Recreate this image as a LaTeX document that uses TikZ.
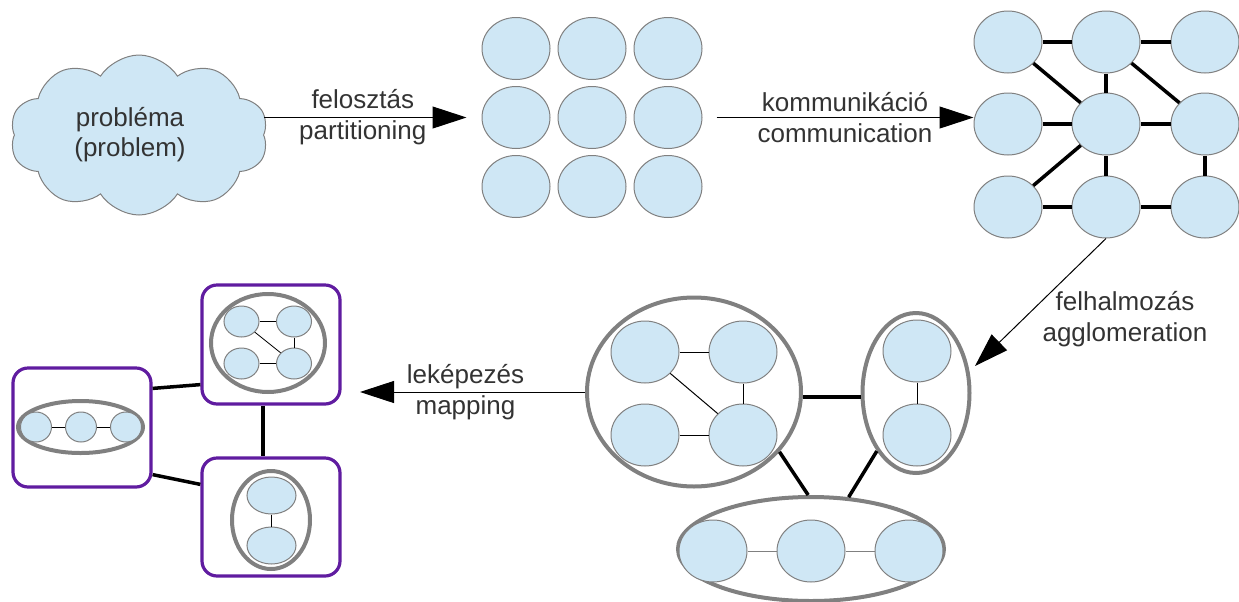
\documentclass[tikz,border=0pt]{standalone}
\usepackage{fontspec}
\setmainfont{Liberation Sans}
\usetikzlibrary{shapes.geometric, shapes.symbols, arrows.meta, positioning}
\definecolor{cellblue}{RGB}{207,231,245}
\definecolor{edgegray}{RGB}{128,128,128}
\definecolor{groupgray}{RGB}{128,128,128}
\definecolor{procpurple}{RGB}{96,28,160}
\definecolor{textgray}{RGB}{51,51,51}
\tikzset{
    % Shapes
    cell/.style    = {ellipse, draw=edgegray, line width=0.5pt, fill=cellblue, inner sep=0pt, minimum width=34pt, minimum height=31pt},
    group/.style   = {ellipse, draw=groupgray, line width=2pt, inner sep=0pt},
    proc/.style    = {rectangle, rounded corners=7.5pt, draw=procpurple, line width=1.6pt, minimum width=69pt, minimum height=59.5pt},
    problem/.style = {cloud, cloud puffs=10, cloud puff arc=115, aspect=1.6, draw=edgegray, fill=cellblue, line width=0.5pt,
                      minimum width=129pt, minimum height=80pt, font=\fontsize{13}{15}\selectfont, text=textgray, align=center},
    % Edges and labels
    link/.style     = {line width=1.75pt},
    thinlink/.style = {line width=0.5pt},
    flow/.style     = {line width=0.5pt, -{Triangle[length=17pt, width=11pt]}},
    lbl/.style      = {font=\fontsize{13}{15.5}\selectfont, text=textgray, align=center}
}
\begin{document}
\begin{tikzpicture}[x=0.5pt, y=-0.5pt]
    \useasboundingbox (0,0) rectangle (1239,601);

    \node (prob) [problem] at (139,135) {\hspace*{-9pt}probléma\\\hspace*{-9pt}(problem)};

    % Partitioning
    \node (part11) [cell] at (516,48.5) {};
    \node (part12) [cell] at (592,48.5) {};
    \node (part13) [cell] at (668,48.5) {};
    \node (part21) [cell] at (516,117.5) {};
    \node (part22) [cell] at (592,117.5) {};
    \node (part23) [cell] at (668,117.5) {};
    \node (part31) [cell] at (516,186.5) {};
    \node (part32) [cell] at (592,186.5) {};
    \node (part33) [cell] at (668,186.5) {};

    % Communication
    \node (comm11) [cell] at (1008,42) {};
    \node (comm12) [cell] at (1106,42) {};
    \node (comm13) [cell] at (1205,42) {};
    \node (comm21) [cell] at (1008,124) {};
    \node (comm22) [cell] at (1106,124) {};
    \node (comm23) [cell] at (1205,124) {};
    \node (comm31) [cell] at (1008,207) {};
    \node (comm32) [cell] at (1106,207) {};
    \node (comm33) [cell] at (1205,207) {};

    \draw [link] (comm11) -- (comm12);
    \draw [link] (comm12) -- (comm13);
    \draw [link] (comm11) -- (comm22);
    \draw [link] (comm12) -- (comm22);
    \draw [link] (comm12) -- (comm23);
    \draw [link] (comm21) -- (comm22);
    \draw [link] (comm22) -- (comm23);
    \draw [link] (comm31) -- (comm22);
    \draw [link] (comm22) -- (comm32);
    \draw [link] (comm23) -- (comm33);
    \draw [link] (comm31) -- (comm32);
    \draw [link] (comm32) -- (comm33);

    % Agglomeration
    \node (groupA) [group, minimum width=107pt, minimum height=94.5pt] at (694,392) {};
    \node (groupB) [group, minimum width=53.5pt, minimum height=80pt] at (916,393) {};
    \node (groupC) [group, minimum width=133pt, minimum height=52pt] at (811,549) {};

    \node (aggA1) [cell] at (645,352) {};
    \node (aggA2) [cell] at (743,352) {};
    \node (aggA3) [cell] at (645,435) {};
    \node (aggA4) [cell] at (743,435) {};
    \node (aggB1) [cell] at (917,351) {};
    \node (aggB2) [cell] at (917,435) {};
    \node (aggC1) [cell] at (713,551) {};
    \node (aggC2) [cell] at (811,551) {};
    \node (aggC3) [cell] at (909,551) {};

    \draw [thinlink] (aggA1) -- (aggA2);
    \draw [thinlink] (aggA2) -- (aggA4);
    \draw [thinlink] (aggA3) -- (aggA4);
    \draw [thinlink] (aggA1) -- (aggA4);
    \draw [thinlink] (aggB1) -- (aggB2);
    \draw [thinlink, edgegray] (aggC1) -- (aggC2);
    \draw [thinlink, edgegray] (aggC2) -- (aggC3);

    \draw [link] ([yshift=-2.5pt]groupA.east) -- ([yshift=-2pt]groupB.west);
    \draw [link] (groupA.-35) -- (groupC.93);
    \draw [link] (groupB.236) -- (groupC.54);

    % Mapping
    \node (mapA) [proc] at (271,344.5) {};
    \node (mapB) [proc] at (82,427.5) {};
    \node (mapC) [proc, minimum height=59pt] at (271,517) {};

    \node (mapgA) [group, minimum width=57pt, minimum height=49pt] at (268,343) {};
    \node (mapgB) [group, minimum width=62.5pt, minimum height=26pt] at (80.5,427) {};
    \node (mapgC) [group, minimum width=39pt, minimum height=49pt] at (271,520) {};

    \node (mapA1) [cell, minimum width=17.5pt, minimum height=15.5pt] at (241.5,321.5) {};
    \node (mapA2) [cell, minimum width=17.5pt, minimum height=15.5pt] at (294,321.5) {};
    \node (mapA3) [cell, minimum width=17.5pt, minimum height=15.5pt] at (241.5,363.5) {};
    \node (mapA4) [cell, minimum width=17.5pt, minimum height=15.5pt] at (294,363.5) {};
    \node (mapB1) [cell, minimum width=15.5pt, minimum height=15pt] at (36,427) {};
    \node (mapB2) [cell, minimum width=15.5pt, minimum height=15pt] at (81,427) {};
    \node (mapB3) [cell, minimum width=15.5pt, minimum height=15pt] at (126,427) {};
    \node (mapC1) [cell, minimum width=24.5pt, minimum height=18.5pt] at (271.5,495.5) {};
    \node (mapC2) [cell, minimum width=24.5pt, minimum height=18.5pt] at (271.5,545.5) {};

    \draw [thinlink, line width=0.4pt] (mapA1) -- (mapA2);
    \draw [thinlink, line width=0.4pt] (mapA2) -- (mapA4);
    \draw [thinlink, line width=0.4pt] (mapA3) -- (mapA4);
    \draw [thinlink, line width=0.4pt] (mapA1) -- (mapA4);
    \draw [thinlink, line width=0.4pt] (mapB1) -- (mapB2);
    \draw [thinlink, line width=0.4pt] (mapB2) -- (mapB3);
    \draw [thinlink, line width=0.4pt] (mapC1) -- (mapC2);

    \draw [link] ([yshift=-11pt]mapB.north east) -- ([yshift=10.5pt]mapA.south west);
    \draw [link] ([yshift=7pt]mapB.south east) -- ([yshift=-14pt]mapC.north west);
    \draw [link] ([xshift=-4pt]mapA.south) -- ([xshift=-4pt]mapC.north);

    % Steps
    \coordinate (agglend) at (975,366);
    \coordinate (mapend) at (360,392);

    \draw [flow, shorten >=7.5pt] (part21.west -| prob.east) -- node[lbl, xshift=-5pt] {felosztás\\partitioning} (part21.west);
    \draw [flow, shorten <=7pt] (part23.east) -- node[lbl, xshift=3.5pt] {kommunikáció\\communication} (part23.east -| comm21.west);
    \draw [flow] (comm32.south) -- node[lbl, pos=0.6, right=4pt, yshift=-2pt] {felhalmozás\\agglomeration} (agglend);
    \draw [flow] (groupA.west) -- node[lbl, xshift=-3.5pt] {leképezés\\mapping} (mapend);
\end{tikzpicture}
\end{document}
